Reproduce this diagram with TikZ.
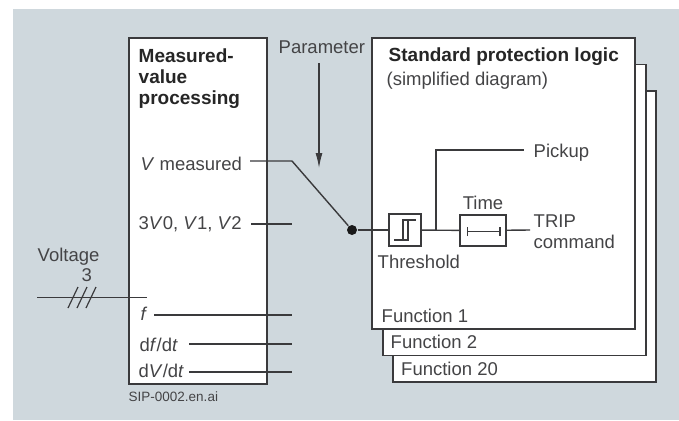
\documentclass[tikz,border=0pt]{standalone}
\usepackage{fontspec}
\setmainfont{Liberation Sans}
\usepackage{tikz}
\usetikzlibrary{positioning}
\usetikzlibrary{arrows.meta}
\definecolor{sip_back}{HTML}{CFD8DD}
\definecolor{sip_line}{HTML}{3A3A3C}
\definecolor{sip_text}{HTML}{444446}
\tikzset{my_diagram/.style={x=1pt,y=-1pt,line width=1.4pt,draw=sip_line,color=sip_line}}
\tikzset{my_frame/.style={draw=sip_line,fill=white,line width=1.5pt,inner sep=0pt,outer sep=0pt}}
\tikzset{my_sheet/.style={my_frame,minimum width=263pt,minimum height=291pt}}
\tikzset{my_text/.style={inner sep=0pt,text=sip_text,font=\fontsize{18.5}{21}\selectfont}}
\tikzset{my_title/.style={inner sep=0pt,align=left,text=black!85,font=\fontsize{19}{21}\selectfont\bfseries}}
\tikzset{my_point/.style={circle,fill=black!90,inner sep=0pt,minimum size=10pt}}

\begin{document}
\begin{tikzpicture}[my_diagram]
    \useasboundingbox (0,0) rectangle (679,420);
    \fill[sip_back] (13,9) rectangle (679,420);

    % processing block
    \node[my_frame, minimum width=138pt, minimum height=346pt] (proc) at (198,211) {};
    \node[my_title, anchor=north west] (proc_title) at (138,48) {Measured-\\value\\processing};
    \node[my_text, anchor=base west] (v_meas) at (140,170) {\textit{V} measured};
    \node[my_text, anchor=base west] (v_seq) at (138,229) {3\textit{V}0, \textit{V}1, \textit{V}2};
    \node[my_text, anchor=base west] (freq) at (140,320) {\textit{f}};
    \node[my_text, anchor=base west] (dfdt) at (139,351) {d\textit{f}/d\textit{t}};
    \node[my_text, anchor=base west] (dvdt) at (138,377) {d\textit{V}/d\textit{t}};
    \node[inner sep=0pt, anchor=base west, text=sip_text, font=\fontsize{13.5}{16}\selectfont] (file_name) at (128,401) {SIP-0002.en.ai};

    % voltage input
    \node[my_text, anchor=base west] (volt) at (37,261) {Voltage};
    \node[my_text, anchor=base west] (three) at (81,281) {3};
    \coordinate (volt_a) at (37,297.5);
    \coordinate (volt_b) at (147,297.5);
    \draw (volt_a) -- (volt_b);
    \foreach \i in {0,1,2} {
        \coordinate (sl_a\i) at (68+\i*9,308);
        \coordinate (sl_b\i) at (78+\i*9,287);
        \draw[line width=1.2pt] (sl_a\i) -- (sl_b\i);
    }

    % parameter
    \node[my_text, anchor=base west] (param) at (278,53) {Parameter};
    \coordinate (param_a) at (319,63);
    \coordinate (param_b) at (319,168);
    \draw[-{Latex[length=15pt,width=7pt]}, line width=1.2pt] (param_a) -- (param_b);

    % logic sheets, the last one first
    \node[my_sheet] (fn_20) at (524.5,236.5) {};
    \node[my_sheet] (fn_2) at (514.5,210) {};
    \node[my_sheet] (fn_1) at (503.5,183.5) {};
    \node[my_title, anchor=base west] (logic_title) at (388,61) {Standard protection logic};
    \node[my_text, anchor=base west] (logic_sub) at (386,85) {(simplified diagram)};
    \node[my_text, anchor=base west] (fn_1_text) at (381,322) {Function 1};
    \node[my_text, anchor=base west] (fn_2_text) at (390,348) {Function 2};
    \node[my_text, anchor=base west] (fn_20_text) at (400.5,375) {Function 20};

    % threshold and time
    \node[my_frame, minimum size=32pt] (thres) at (405,230) {};
    \node[my_frame, minimum width=46pt, minimum height=31pt] (timer) at (483,230.5) {};
    \node[my_text, anchor=base west] (thres_text) at (377,268) {Threshold};
    \node[my_text, anchor=base] (timer_text) at (483,209) {Time};
    \node[my_text, anchor=base west] (pickup) at (533,157) {Pickup};
    \node[my_text, anchor=base west] (trip) at (533,227) {TRIP};
    \node[my_text, anchor=base west] (command) at (533,248) {command};

    % hysteresis symbol and time bar
    \coordinate (hy_a) at (394,240);
    \coordinate (hy_b) at (403,240);
    \coordinate (hy_c) at (403,220);
    \coordinate (hy_d) at (416,220);
    \coordinate (hy_e) at (408,240);
    \coordinate (hy_f) at (408,220);
    \draw[line width=1.1pt] (hy_a) -- (hy_b) -- (hy_c) -- (hy_d);
    \draw[line width=1.1pt] (hy_b) -- (hy_e) -- (hy_f);
    \coordinate (bar_a) at (467,231.5);
    \coordinate (bar_b) at (500.5,231.5);
    \draw[{Bar[width=9pt]}-{Bar[width=9pt]}, line width=1.2pt] (bar_a) -- (bar_b);

    % wiring
    \node[my_point] (switch) at (352,230) {};
    \coordinate (v_start) at (250,161);
    \coordinate (v_knee) at (292,161);
    \draw (v_start) -- (v_knee) -- (switch);
    \draw (switch) -- (thres);
    \draw (thres) -- (timer);
    \coordinate (branch) at (436,230);
    \coordinate (branch_top) at (436,150);
    \coordinate (pick_end) at (524,150);
    \draw (branch) -- (branch_top) -- (pick_end);
    \coordinate (trip_end) at (530,230);
    \draw (timer) -- (trip_end);
    \foreach \name/\xa/\yy in {seq/251/224, fr/154/315, df/189/344, dv/189/372} {
        \coordinate (\name_a) at (\xa,\yy);
        \coordinate (\name_b) at (292,\yy);
        \draw (\name_a) -- (\name_b);
    }
\end{tikzpicture}
\end{document}
